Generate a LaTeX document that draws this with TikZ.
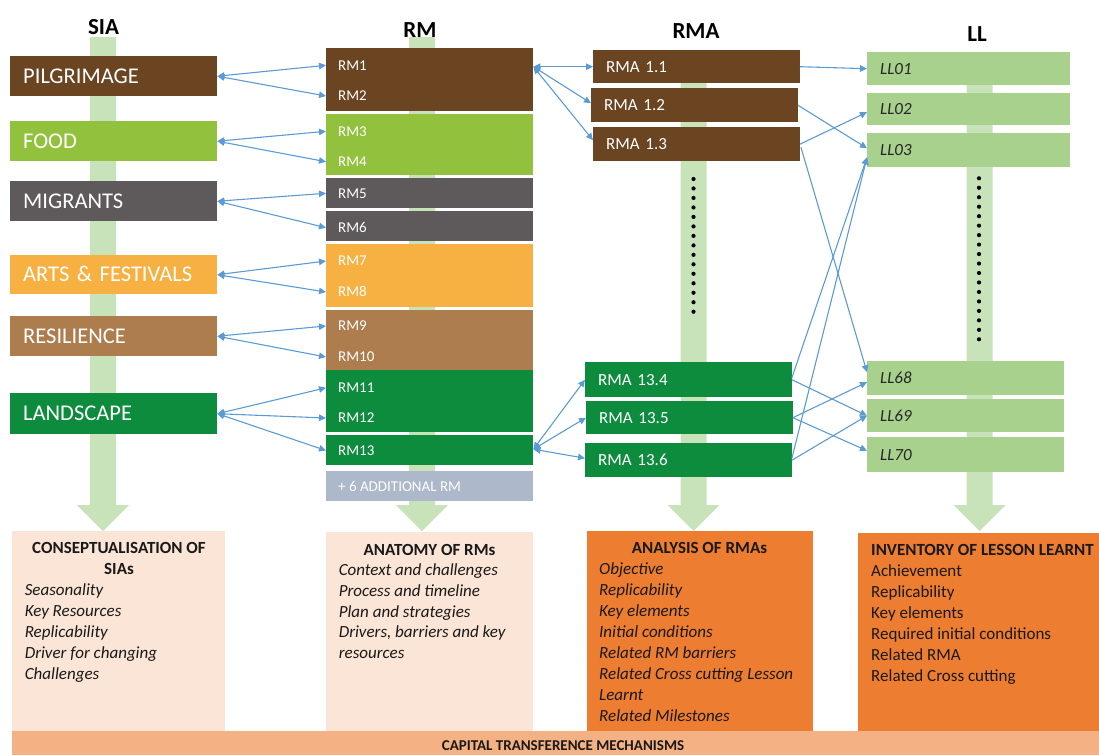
\documentclass[tikz,border=0pt]{standalone}
\usepackage{fontspec}
\setmainfont{Carlito}
\usetikzlibrary{arrows.meta,calc}
\definecolor{pilc}{HTML}{6B4421}
\definecolor{foodc}{HTML}{92C13E}
\definecolor{migrc}{HTML}{5E5A5B}
\definecolor{artsc}{HTML}{F7B042}
\definecolor{resic}{HTML}{AD7D4E}
\definecolor{landc}{HTML}{0E8C3E}
\definecolor{addc}{HTML}{ADB9CA}
\definecolor{llg}{HTML}{A9D18E}
\definecolor{barc}{HTML}{C8E2BA}
\definecolor{arrc}{HTML}{5B9BD5}
\definecolor{peach}{HTML}{FBE5D6}
\definecolor{orng}{HTML}{ED7D31}
\definecolor{capc}{HTML}{F4B183}
\newcommand{\greenbar}[2]{%
  \fill[barc] ({#1-13},#2) -- ({#1+13},#2) -- ({#1+13},505) -- ({#1+26},505) -- (#1,531) -- ({#1-26},505) -- ({#1-13},505) -- cycle;}
\begin{document}
\begin{tikzpicture}[x=1pt,y=-1pt,
  title/.style={anchor=base, inner sep=0pt, font=\bfseries\fontsize{23}{27}\selectfont},
  sia/.style={anchor=north west, rectangle, minimum height=40pt, text width=181pt, inner xsep=13pt, inner ysep=0pt, text height=14.5pt, text depth=0pt, align=left, text=white, font=\fontsize{22.5}{27}\selectfont},
  rmgrp/.style={anchor=north west, rectangle, minimum width=207pt, inner sep=0pt},
  rmlbl/.style={anchor=west, inner sep=0pt, text height=9.7pt, text depth=0pt, text=white, font=\fontsize{15}{18}\selectfont},
  rmabox/.style={anchor=north west, rectangle, text width=180.5pt, inner xsep=13pt, inner ysep=0pt, text height=11pt, text depth=0pt, align=left, text=white, font=\fontsize{17}{20}\selectfont},
  llbox/.style={anchor=north west, rectangle, fill=llg, inner xsep=13pt, inner ysep=0pt, text height=11pt, text depth=0pt, align=left, text=black!85, font=\fontsize{17}{20}\selectfont\itshape},
  panel/.style={anchor=north west, rectangle, inner sep=0pt},
  head/.style={inner sep=0pt, text=black!90, font=\bfseries\fontsize{17}{20}\selectfont},
  item/.style={anchor=base west, inner sep=0pt, text=black!90, font=\fontsize{17}{20}\selectfont},
  conn/.style={draw=arrc, line width=1.1pt},
  bi/.style={conn, {Triangle[length=7pt,width=6.5pt]}-{Triangle[length=7pt,width=6.5pt]}},
  uni/.style={conn, -{Triangle[length=7pt,width=6.5pt]}}
]
\useasboundingbox (0,0) rectangle (1099,755);

% vertical green bars with arrow heads
\greenbar{103}{37}
\greenbar{422}{37}
\greenbar{693.5}{55}
\greenbar{979.5}{55}

% dots
\foreach \k in {0,...,14} \fill[black] (693.5,{179+9.48*\k}) circle (2.1pt);
\foreach \k in {0,...,17} \fill[black] (979,{178.3+9.47*\k}) circle (2.1pt);

% titles
\node[title] (tsia) at (103.5,34) {SIA};
\node[title] (trm) at (420,37) {RM};
\node[title] (trma) at (696,38.5) {RMA};
\node[title] (tll) at (977,41) {LL};

% SIA boxes
\node[sia, fill=pilc] (pil) at (10,56) {PILGRIMAGE};
\node[sia, fill=foodc] (food) at (10,121) {FOOD};
\node[sia, fill=migrc] (migr) at (10,181) {MIGRANTS};
\node[sia, fill=artsc, minimum height=39pt] (arts) at (10,255) {ARTS \& FESTIVALS};
\node[sia, fill=resic] (resi) at (10,316) {RESILIENCE};
\node[sia, fill=landc, minimum height=41pt] (land) at (10,393) {LANDSCAPE};

% RM groups
\node[rmgrp, fill=pilc, minimum height=63pt] (g1) at (326,48) {};
\node[rmgrp, fill=foodc, minimum height=61pt] (g2) at (326,114) {};
\node[rmgrp, fill=migrc, minimum height=30pt] (g3) at (326,178) {};
\node[rmgrp, fill=migrc, minimum height=30pt] (g4) at (326,211) {};
\node[rmgrp, fill=artsc, minimum height=63pt] (g5) at (326,244) {};
\node[rmgrp, fill=resic, minimum height=60pt] (g6) at (326,310) {};
\node[rmgrp, fill=landc, minimum height=62pt] (g7) at (326,370) {};
\node[rmgrp, fill=landc, minimum height=30pt] (g8) at (326,435) {};
\node[rmgrp, fill=addc, minimum height=30pt] (g9) at (326,471) {};

\node[rmlbl] (rm1) at (338,65.3) {RM1};
\node[rmlbl] (rm2) at (338,96) {RM2};
\node[rmlbl] (rm3) at (338,131.3) {RM3};
\node[rmlbl] (rm4) at (338,161.7) {RM4};
\node[rmlbl] (rm5) at (338,193.3) {RM5};
\node[rmlbl] (rm6) at (338,227.7) {RM6};
\node[rmlbl] (rm7) at (338,261) {RM7};
\node[rmlbl] (rm8) at (338,292) {RM8};
\node[rmlbl] (rm9) at (338,326) {RM9};
\node[rmlbl] (rm10) at (338,357) {RM10};
\node[rmlbl] (rm11) at (338,387.8) {RM11};
\node[rmlbl] (rm12) at (338,418) {RM12};
\node[rmlbl] (rm13) at (338,450.5) {RM13};
\node[rmlbl] (rmadd) at (338,487) {+ 6 ADDITIONAL RM};

% RMA boxes
\node[rmabox, fill=pilc, minimum height=33pt] (rma11) at (593,50) {RMA 1.1};
\node[rmabox, fill=pilc, minimum height=34pt] (rma12) at (591,88) {RMA 1.2};
\node[rmabox, fill=pilc, minimum height=34pt] (rma13) at (593,127) {RMA 1.3};
\node[rmabox, fill=landc, minimum height=35pt] (rma134) at (585,362) {RMA 13.4};
\node[rmabox, fill=landc, minimum height=33pt] (rma135) at (586,401) {RMA 13.5};
\node[rmabox, fill=landc, minimum height=34pt] (rma136) at (585,443) {RMA 13.6};

% LL boxes
\node[llbox, text width=177pt, minimum height=33pt] (ll01) at (867,52) {LL01};
\node[llbox, text width=177pt, minimum height=32pt] (ll02) at (867,93) {LL02};
\node[llbox, text width=177pt, minimum height=34pt] (ll03) at (867,133) {LL03};
\node[llbox, text width=171pt, minimum height=34pt] (ll68) at (867,361) {LL68};
\node[llbox, text width=171pt, minimum height=33pt] (ll69) at (867,399) {LL69};
\node[llbox, text width=171pt, minimum height=35pt] (ll70) at (867,437) {LL70};

% SIA <-> RM connectors
\draw[bi] (pil.east) -- (g1.west |- rm1);
\draw[bi] (pil.east) -- (g1.west |- rm2);
\draw[bi] (food.east) -- (g2.west |- rm3);
\draw[bi] (food.east) -- (g2.west |- rm4);
\draw[bi] (migr.east) -- (g3.west |- rm5);
\draw[bi] (migr.east) -- (g4.west |- rm6);
\draw[bi] (arts.east) -- (g5.west |- rm7);
\draw[bi] (arts.east) -- (g5.west |- rm8);
\draw[bi] (resi.east) -- (g6.west |- rm9);
\draw[bi] (resi.east) -- (g6.west |- rm10);
\draw[bi] (land.east) -- (g7.west |- rm11);
\draw[bi] (land.east) -- (g7.west |- rm12);
\draw[bi] (land.east) -- (g8.west |- rm13);

% RM <-> RMA connectors
\coordinate (g1r) at (g1.east |- rma11.west);
\draw[bi] (g1r) -- (rma11.west);
\draw[bi] (g1r) -- ($(rma12.west)+(0,-2)$);
\draw[bi] (g1r) -- ($(rma13.west)+(0,-4)$);
\coordinate (g8r) at ($(g8.east)+(0,-1)$);
\draw[bi] (g8r) -- (rma134.west);
\draw[bi] (g8r) -- (rma135.west);
\draw[bi] (g8r) -- ($(rma136.west)+(0,-2)$);

% RMA -> LL connectors
\draw[uni] (rma11.east) -- (ll01.west);
\draw[uni] (rma12.east) -- ($(ll03.west)+(0,-2)$);
\draw[uni] (rma13.east) -- ($(ll02.west)+(0,3)$);
\draw[uni] ($(rma13.east)+(1,3)$) -- ($(ll68.west)+(0,-6)$);
\draw[uni] ($(rma134.east)+(0,-2)$) -- ($(ll03.west)+(0,7)$);
\draw[uni] ($(rma136.east)+(0,-2)$) -- ($(ll03.west)+(0,7)$);
\draw[uni] (rma134.east) -- (ll69.west);
\draw[uni] (rma135.east) -- ($(ll68.west)+(0,4)$);
\draw[uni] (rma135.east) -- ($(ll70.west)+(0,-4)$);
\draw[uni] (rma136.east) -- (ll69.west);

% bottom panels
\node[panel, fill=peach, minimum width=213pt, minimum height=200pt] (pconc) at (12,531) {};
\node[panel, fill=peach, minimum width=207pt, minimum height=199pt] (panat) at (326,532) {};
\node[panel, fill=orng, minimum width=226pt, minimum height=200pt] (panal) at (587,531) {};
\node[panel, fill=orng, minimum width=241pt, minimum height=198pt] (pinv) at (858,533) {};
\node[panel, fill=capc, minimum width=1087pt, minimum height=24pt] (pcap) at (12,731) {};
\node[anchor=base, inner sep=0pt, text=black!90, font=\bfseries\fontsize{15}{18}\selectfont] (captxt) at (563,750) {CAPITAL TRANSFERENCE MECHANISMS};

% panel texts
\node[head, anchor=base] (hconc1) at (119,553.5) {CONSEPTUALISATION OF};
\node[head, anchor=base] (hconc2) at (119,574.5) {SIAs};
\foreach \t [count=\i] in {Seasonality, Key Resources, Replicability, Driver for changing, Challenges}
  \node[item, font=\fontsize{17}{20}\selectfont\itshape] (conc\i) at (24.6,{554+20.85*(\i+1)}) {\t};

\node[head, anchor=base] (hanat) at (429.5,555) {ANATOMY OF RMs};
\foreach \t [count=\i] in {Context and challenges, Process and timeline, Plan and strategies, {Drivers, barriers and key}, resources}
  \node[item, font=\fontsize{17}{20}\selectfont\itshape] (anat\i) at (338.6,{555+20.7*\i}) {\t};

\node[head, anchor=base] (hanal) at (699.5,553) {ANALYSIS OF RMAs};
\foreach \t [count=\i] in {Objective, Replicability, Key elements, Initial conditions, Related RM barriers, Related Cross cutting Lesson, Learnt, Related Milestones}
  \node[item, font=\fontsize{17}{20}\selectfont\itshape] (anal\i) at (599,{553+21*\i}) {\t};

\node[head, anchor=base west] (hinv) at (871,555) {INVENTORY OF LESSON LEARNT};
\foreach \t [count=\i] in {Achievement, Replicability, Key elements, Required initial conditions, Related RMA, Related Cross cutting}
  \node[item] (inv\i) at (871,{555+21*\i}) {\t};
\end{tikzpicture}
\end{document}
